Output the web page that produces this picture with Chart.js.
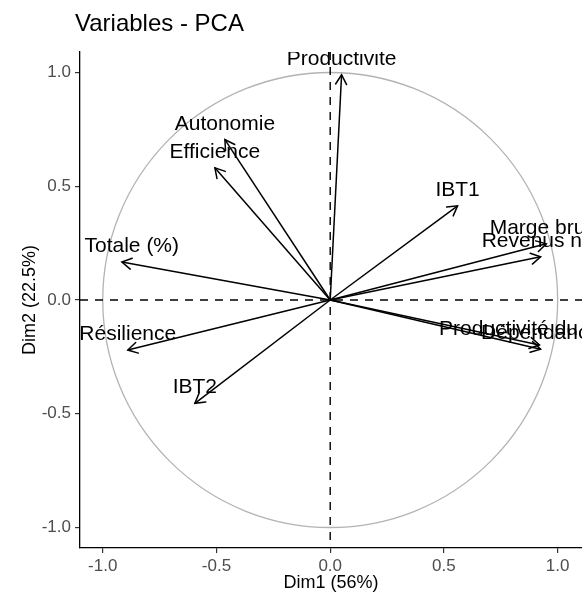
<!DOCTYPE html>
<html>
<head>
<meta charset="utf-8">
<script src="https://cdn.jsdelivr.net/npm/chart.js@4.4.1/dist/chart.umd.min.js"></script>
<style>
  html, body { margin: 0; padding: 0; background: #ffffff; }
  #wrap { width: 582px; height: 602px; }
</style>
</head>
<body>
<div id="wrap"><canvas id="c" width="582" height="602"></canvas></div>
<script>
// ---- data ----
const categories = ['Productivite', 'Autonomie', 'Efficience', 'IBT1', 'Marge brute', 'Revenus net',
  'E Totale (%)', 'Résilience', 'IBT2', 'Productivité du travail', 'Dépendance'];
const dim1 = [0.05, -0.463, -0.507, 0.56, 0.95, 0.925, -0.916, -0.89, -0.595, 0.92, 0.925];
const dim2 = [0.99, 0.705, 0.581, 0.414, 0.247, 0.19, 0.167, -0.22, -0.454, -0.198, -0.216];
const xTicks = [-1.0, -0.5, 0.0, 0.5, 1.0];
const yTicks = [-1.0, -0.5, 0.0, 0.5, 1.0];
const titleText = 'Variables - PCA';
const xTitle = 'Dim1 (56%)';
const yTitle = 'Dim2 (22.5%)';

const FONT = "'Liberation Sans', Arial, Helvetica, sans-serif";

const datasets = categories.map((name, i) => ({
  label: name,
  data: [{ x: 0, y: 0 }, { x: dim1[i], y: dim2[i] }],
  showLine: true,
  borderColor: '#000000',
  borderWidth: 1.5,
  pointRadius: 0,
  pointHoverRadius: 0,
  fill: false
}));

const backgroundPlugin = {
  id: 'pcaBackground',
  beforeDatasetsDraw(chart) {
    const { ctx, chartArea: a, scales: { x, y } } = chart;
    ctx.save();
    ctx.beginPath();
    ctx.rect(a.left, a.top, a.right - a.left, a.bottom - a.top);
    ctx.clip();
    // correlation circle (radius 1 in data units)
    const cx = x.getPixelForValue(0), cy = y.getPixelForValue(0);
    const rx = x.getPixelForValue(1) - cx;
    const ry = cy - y.getPixelForValue(1);
    ctx.beginPath();
    ctx.ellipse(cx, cy, rx, ry, 0, 0, Math.PI * 2);
    ctx.strokeStyle = '#b3b3b3';
    ctx.lineWidth = 1.3;
    ctx.stroke();
    ctx.restore();
  }
};

const overlayPlugin = {
  id: 'pcaOverlay',
  afterLayout(chart) {
    if (chart.titleBlock) { chart.titleBlock.left = chart.chartArea.left - 5; }
  },
  afterDatasetsDraw(chart) {
    const { ctx, chartArea: a, scales: { x, y } } = chart;
    ctx.save();
    ctx.beginPath();
    ctx.rect(a.left, a.top, a.right - a.left, a.bottom - a.top);
    ctx.clip();
    const ox = x.getPixelForValue(0), oy = y.getPixelForValue(0);
    // arrow heads
    ctx.strokeStyle = '#000000';
    ctx.lineWidth = 1.5;
    ctx.lineCap = 'round';
    const hl = 11, ha = Math.PI / 6;
    for (let i = 0; i < categories.length; i++) {
      const px = x.getPixelForValue(dim1[i]);
      const py = y.getPixelForValue(dim2[i]);
      const ang = Math.atan2(py - oy, px - ox);
      ctx.beginPath();
      ctx.moveTo(px - hl * Math.cos(ang - ha), py - hl * Math.sin(ang - ha));
      ctx.lineTo(px, py);
      ctx.lineTo(px - hl * Math.cos(ang + ha), py - hl * Math.sin(ang + ha));
      ctx.stroke();
    }
    // labels
    ctx.fillStyle = '#000000';
    ctx.font = '21px ' + FONT;
    ctx.textAlign = 'center';
    ctx.textBaseline = 'alphabetic';
    for (let i = 0; i < categories.length; i++) {
      const px = x.getPixelForValue(dim1[i]);
      const py = y.getPixelForValue(dim2[i]);
      ctx.fillText(categories[i], px, py - 10);
    }
    // dashed reference lines
    ctx.setLineDash([8, 7]);
    ctx.lineWidth = 1.4;
    ctx.lineCap = 'butt';
    ctx.beginPath();
    ctx.moveTo(a.left, oy); ctx.lineTo(a.right, oy);
    ctx.moveTo(ox, a.top); ctx.lineTo(ox, a.bottom);
    ctx.stroke();
    ctx.restore();
  }
};

new Chart(document.getElementById('c'), {
  type: 'scatter',
  data: { datasets },
  options: {
    responsive: false,
    devicePixelRatio: 1,
    animation: false,
    events: [],
    layout: { padding: { left: 0, right: 0, top: 0, bottom: 0 } },
    plugins: {
      legend: { display: false },
      tooltip: { enabled: false },
      title: {
        display: true,
        text: titleText,
        align: 'start',
        fullSize: false,
        color: '#000000',
        font: { family: FONT, size: 24, weight: 'normal' },
        padding: { top: 10, bottom: 13.2 }
      }
    },
    scales: {
      x: {
        type: 'linear',
        min: -1.1,
        max: 1.107,
        afterBuildTicks: (s) => { s.ticks = xTicks.map(v => ({ value: v })); },
        afterFit: (s) => { s.height = 54; },
        ticks: {
          callback: (v) => Number(v).toFixed(1),
          color: '#4d4d4d',
          font: { family: FONT, size: 17 },
          padding: 3,
          maxRotation: 0,
          autoSkip: false
        },
        grid: { drawOnChartArea: false, drawTicks: true, tickLength: 5, color: '#333333', lineWidth: 1.2 },
        border: { display: true, color: '#000000', width: 1.3 },
        title: {
          display: true,
          text: xTitle,
          color: '#000000',
          font: { family: FONT, size: 18 },
          padding: { top: 0, bottom: 8 }
        }
      },
      y: {
        type: 'linear',
        min: -1.09,
        max: 1.09,
        afterBuildTicks: (s) => { s.ticks = yTicks.map(v => ({ value: v })); },
        afterFit: (s) => { s.width = 80; },
        ticks: {
          callback: (v) => Number(v).toFixed(1),
          color: '#4d4d4d',
          font: { family: FONT, size: 17 },
          padding: 4,
          autoSkip: false
        },
        grid: { drawOnChartArea: false, drawTicks: true, tickLength: 5, color: '#333333', lineWidth: 1.2 },
        border: { display: true, color: '#000000', width: 1.3 },
        title: {
          display: true,
          text: yTitle,
          color: '#000000',
          font: { family: FONT, size: 18 },
          padding: { top: 19, bottom: 0 }
        }
      }
    }
  },
  plugins: [backgroundPlugin, overlayPlugin]
});
</script>
</body>
</html>
